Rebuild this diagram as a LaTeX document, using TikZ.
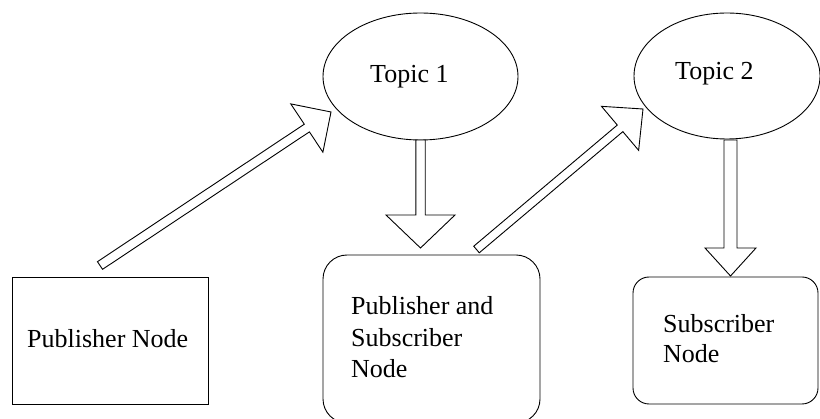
\documentclass[tikz,border=0pt]{standalone}
\usepackage{fontspec}
\setmainfont{Liberation Serif}
\usetikzlibrary{calc,shapes.geometric}
\tikzset{
  lw/.style={line width=0.9pt},
  boxnode/.style={draw, lw, inner sep=0pt},
  topicnode/.style={draw, lw, ellipse, inner sep=0pt},
  lbl/.style={anchor=base west, inner sep=0pt, font=\fontsize{26}{31.5}\selectfont},
  blockarrowstyle/.style={draw, lw, fill=white, line join=miter}
}
\newcommand\blockarrow[5]{%
  \path coordinate (ba-c) at ($(#2)!#5!(#1)$);
  \draw[blockarrowstyle] ($(#1)!#3!90:(#2)$) -- ($(ba-c)!#3!-90:(#1)$) -- ($(ba-c)!#4!-90:(#1)$) -- (#2) -- ($(ba-c)!#4!90:(#1)$) -- ($(ba-c)!#3!90:(#1)$) -- ($(#1)!#3!-90:(#2)$) -- cycle;
}
\begin{document}
\begin{tikzpicture}[x=1pt,y=-1pt]
\useasboundingbox[fill=white] (0,0) rectangle (820,419);
% nodes
\node[boxnode, minimum width=196pt, minimum height=127pt] (pub) at (110,340.5) {};
\node[topicnode, minimum width=195pt, minimum height=127pt] (t1) at (420.5,76.5) {};
\node[topicnode, minimum width=186pt, minimum height=126pt] (t2) at (727,76) {};
\node[boxnode, rounded corners=24pt, minimum width=217pt, minimum height=168pt] (ps) at (431.5,339) {};
\node[boxnode, rounded corners=16pt, minimum width=185pt, minimum height=127pt] (sub) at (725.5,340.5) {};
% texts
\node[lbl] (pubtxt) at (27,348) {Publisher Node};
\node[lbl] (t1txt) at (370,83) {Topic 1};
\node[lbl] (t2txt) at (675,80) {Topic 2};
\node[lbl] (pstxt) at (351,315) {\parbox[t]{180pt}{\fontsize{26}{31.5}\selectfont Publisher and\\Subscriber\\Node}};
\node[lbl] (subtxt) at (663,333) {\parbox[t]{150pt}{\fontsize{26}{30}\selectfont Subscriber\\Node}};
% connector end points
\coordinate (a1s) at (100,265.5);
\coordinate (a1e) at (331,112);
\coordinate (a2s) at (420.5,140);
\coordinate (a2e) at (420.5,248);
\coordinate (a3s) at (476.5,249.5);
\coordinate (a3e) at (643,109);
\coordinate (a4s) at (730.5,140);
\coordinate (a4e) at (730.5,276);
% block arrows
\blockarrow{a1s}{a1e}{4.6pt}{29pt}{29pt}
\blockarrow{a2s}{a2e}{4.7pt}{34.5pt}{33pt}
\blockarrow{a3s}{a3e}{4.3pt}{28.8pt}{30pt}
\blockarrow{a4s}{a4e}{6.5pt}{25.5pt}{28pt}
\end{tikzpicture}
\end{document}
